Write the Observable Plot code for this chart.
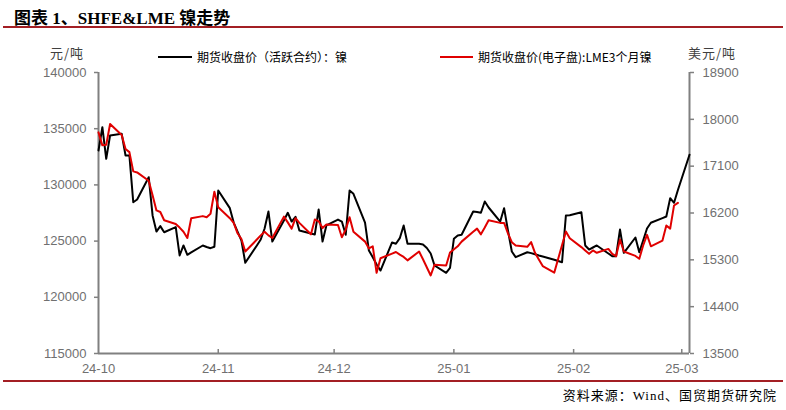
<!DOCTYPE html>
<html><head><meta charset="utf-8">
<script src="https://cdn.jsdelivr.net/npm/d3@7"></script>
<script src="https://cdn.jsdelivr.net/npm/@observablehq/plot@0.6"></script>
<style>
html,body{margin:0;padding:0;background:#fff;}
#wrap{position:relative;width:786px;height:410px;overflow:hidden;font-family:"Noto Sans CJK SC",sans-serif;}
.abs{position:absolute;white-space:nowrap;}
#title{left:14px;top:4px;font-size:17px;font-weight:bold;font-family:"Liberation Serif","Noto Sans CJK SC",serif;color:#000;}
.redline{position:absolute;left:3px;width:780px;height:2px;background:#A31F24;}
.unit{font-size:13px;color:#404040;font-family:"Noto Sans CJK SC",sans-serif;letter-spacing:1px;}
.leg{font-size:12px;color:#000;font-family:"Noto Sans CJK SC",sans-serif;}
.legline{position:absolute;height:2px;}
#src{right:9px;top:385px;font-size:13px;letter-spacing:1px;font-family:"Liberation Serif","Noto Sans CJK SC",serif;color:#000;}
#plot{position:absolute;left:0;top:0;}
</style></head>
<body><div id="wrap">
<div id="title" class="abs">图表 1、SHFE&amp;LME 镍走势</div>
<div class="redline" style="top:26px"></div>
<div class="abs unit" style="left:50px;top:43px">元/吨</div>
<div class="abs unit" style="left:688px;top:43px">美元/吨</div>
<div class="legline" style="left:158px;top:56px;width:34px;background:#000"></div>
<div class="abs leg" style="left:197px;top:48px">期货收盘价（活跃合约）：镍</div>
<div class="legline" style="left:440px;top:56px;width:33px;background:#E00000"></div>
<div class="abs leg" style="left:478px;top:48px">期货收盘价(电子盘):LME3个月镍</div>
<div id="plot"></div>
<div class="redline" style="top:380px"></div>
<div id="src" class="abs">资料来源：Wind、国贸期货研究院</div>
</div>
<script>
const shfeDates = ["2024-10-01","2024-10-02","2024-10-03","2024-10-04","2024-10-07","2024-10-08","2024-10-09","2024-10-10","2024-10-11","2024-10-14","2024-10-15","2024-10-16","2024-10-17","2024-10-18","2024-10-21","2024-10-22","2024-10-23","2024-10-24","2024-10-25","2024-10-28","2024-10-29","2024-10-30","2024-10-31","2024-11-01","2024-11-04","2024-11-05","2024-11-06","2024-11-07","2024-11-08","2024-11-11","2024-11-12","2024-11-13","2024-11-14","2024-11-15","2024-11-18","2024-11-19","2024-11-20","2024-11-21","2024-11-22","2024-11-25","2024-11-26","2024-11-27","2024-11-28","2024-11-29","2024-12-02","2024-12-03","2024-12-04","2024-12-05","2024-12-06","2024-12-09","2024-12-10","2024-12-11","2024-12-12","2024-12-13","2024-12-16","2024-12-17","2024-12-18","2024-12-19","2024-12-20","2024-12-23","2024-12-24","2024-12-25","2024-12-26","2024-12-27","2024-12-30","2024-12-31","2025-01-01","2025-01-02","2025-01-03","2025-01-06","2025-01-07","2025-01-08","2025-01-09","2025-01-10","2025-01-13","2025-01-14","2025-01-15","2025-01-16","2025-01-17","2025-01-20","2025-01-21","2025-01-22","2025-01-23","2025-01-24","2025-01-27","2025-01-29","2025-01-30","2025-01-31","2025-02-03","2025-02-04","2025-02-05","2025-02-06","2025-02-07","2025-02-10","2025-02-11","2025-02-12","2025-02-13","2025-02-14","2025-02-17","2025-02-18","2025-02-19","2025-02-20","2025-02-21","2025-02-24","2025-02-25","2025-02-26","2025-02-27","2025-02-28","2025-03-03"];
const shfeValues = [133060,135130,132320,134400,134550,132620,132620,128460,128700,130685,127280,125850,126330,125790,126240,123720,124610,123780,123990,124610,124480,124370,124500,129500,127930,126650,125850,125050,123070,124610,125140,126120,127630,124960,126830,127520,126740,127160,125940,125680,125590,127810,124960,126390,126920,126740,125560,129500,129210,126650,124160,123570,122920,122380,124880,124760,125260,126390,124760,124760,124700,124390,123900,122830,122180,122610,125200,125500,125560,127630,127590,127520,128520,127990,126740,127930,125940,124070,123570,124010,123930,123830,123720,123630,123340,123120,127280,127300,127570,124610,124250,124430,124610,123900,123660,123660,126030,123960,125320,124010,125050,126120,126630,127050,127190,128820,128410,129550,132680];

const lmeDates = ["2024-10-01","2024-10-02","2024-10-03","2024-10-04","2024-10-07","2024-10-08","2024-10-09","2024-10-10","2024-10-11","2024-10-14","2024-10-15","2024-10-16","2024-10-17","2024-10-18","2024-10-21","2024-10-22","2024-10-23","2024-10-24","2024-10-25","2024-10-28","2024-10-29","2024-10-30","2024-10-31","2024-11-01","2024-11-04","2024-11-05","2024-11-06","2024-11-07","2024-11-08","2024-11-11","2024-11-12","2024-11-13","2024-11-14","2024-11-15","2024-11-18","2024-11-19","2024-11-20","2024-11-21","2024-11-22","2024-11-25","2024-11-26","2024-11-27","2024-11-28","2024-11-29","2024-12-02","2024-12-03","2024-12-04","2024-12-05","2024-12-06","2024-12-09","2024-12-10","2024-12-11","2024-12-12","2024-12-13","2024-12-16","2024-12-17","2024-12-18","2024-12-19","2024-12-20","2024-12-23","2024-12-24","2024-12-26","2024-12-27","2024-12-30","2024-12-31","2025-01-02","2025-01-03","2025-01-06","2025-01-07","2025-01-08","2025-01-09","2025-01-10","2025-01-13","2025-01-14","2025-01-15","2025-01-16","2025-01-17","2025-01-20","2025-01-21","2025-01-22","2025-01-23","2025-01-24","2025-01-27","2025-01-30","2025-01-31","2025-02-03","2025-02-04","2025-02-05","2025-02-06","2025-02-07","2025-02-10","2025-02-11","2025-02-12","2025-02-13","2025-02-14","2025-02-17","2025-02-18","2025-02-19","2025-02-20","2025-02-21","2025-02-24","2025-02-25","2025-02-26","2025-02-27","2025-02-28"];
const lmeValues = [17750,17500,17510,17910,17700,17430,17370,17000,16980,16820,16540,16250,16220,16060,15990,15920,15840,15720,16100,16140,16120,16185,16610,16310,16100,16010,15810,15700,15460,15690,15770,15840,15770,15720,16130,16020,15900,16100,16010,15790,16075,16040,15910,15980,15970,15735,15880,16120,15840,15650,15520,15560,15050,15330,15420,15450,15400,15355,15290,15460,15310,15000,15205,15190,15440,15560,15650,15840,15900,15790,15920,16060,16010,16010,15810,15640,15575,15550,15640,15435,15305,15180,15055,15845,15715,15545,15480,15415,15480,15435,15510,15415,15370,15690,15460,15375,15320,15575,15780,15560,15670,15960,15900,16345,16395];

const leftTicks = [115000,120000,125000,130000,135000,140000];
const rightTicks = [13500,14400,15300,16200,17100,18000,18900];
const monthTicks = ["2024-10-01","2024-11-01","2024-12-01","2025-01-01","2025-02-01","2025-03-01"];
const xStart = "2024-10-01", xEnd = "2025-03-03";

const shfe = shfeDates.map((d,i)=>({date:new Date(d), v:shfeValues[i]}));
const lme = lmeDates.map((d,i)=>({date:new Date(d), v:lmeValues[i]}));

const L0 = leftTicks[0], L1 = leftTicks[leftTicks.length-1];
const R0 = rightTicks[0], R1 = rightTicks[rightTicks.length-1];
const toLeft = v => L0 + (v - R0) * (L1 - L0) / (R1 - R0);

const W = 786, H = 410, mT = 72, mB = 57, mL = 98, mR = 97;
const innerH = H - mT - mB;
const axisColor = "#808080";
const labelColor = "#707070";

const chart = Plot.plot({
  width: W, height: H,
  marginTop: mT, marginBottom: mB, marginLeft: mL, marginRight: mR,
  style: {fontFamily: "Liberation Sans, Arial, sans-serif", fontSize: "13px", background: "transparent"},
  x: {type: "utc", domain: [new Date(xStart), new Date(xEnd)]},
  y: {domain: [L0, L1]},
  marks: [
    Plot.axisY({anchor: "left", ticks: leftTicks, tickSize: 4, tickPadding: 8, tickFormat: d => String(d), stroke: axisColor, fill: labelColor, strokeWidth: 1.5, label: null}),
    Plot.axisY({anchor: "right", ticks: rightTicks.map(toLeft), tickSize: 4, tickPadding: 9, tickFormat: (d, i) => String(rightTicks[i]), stroke: axisColor, fill: labelColor, strokeWidth: 1.5, label: null}),
    Plot.axisX({ticks: monthTicks.map(d => new Date(d)), tickSize: 0, tickPadding: 10, tickFormat: d3.utcFormat("%y-%m"), fill: labelColor, label: null}),
    Plot.ruleX(monthTicks.slice(1).map(d => new Date(d)), {stroke: axisColor, strokeWidth: 1.5, insetTop: innerH - 4}),
    Plot.ruleY([L0], {stroke: axisColor, strokeWidth: 2}),
    Plot.ruleX([new Date(xStart)], {stroke: axisColor, strokeWidth: 2}),
    Plot.ruleX([new Date(xEnd)], {stroke: axisColor, strokeWidth: 2}),
    Plot.line(shfe, {x: "date", y: "v", stroke: "#000", strokeWidth: 2}),
    Plot.line(lme, {x: "date", y: d => toLeft(d.v), stroke: "#E00000", strokeWidth: 2})
  ]
});
document.getElementById("plot").appendChild(chart);
</script>
</body></html>
